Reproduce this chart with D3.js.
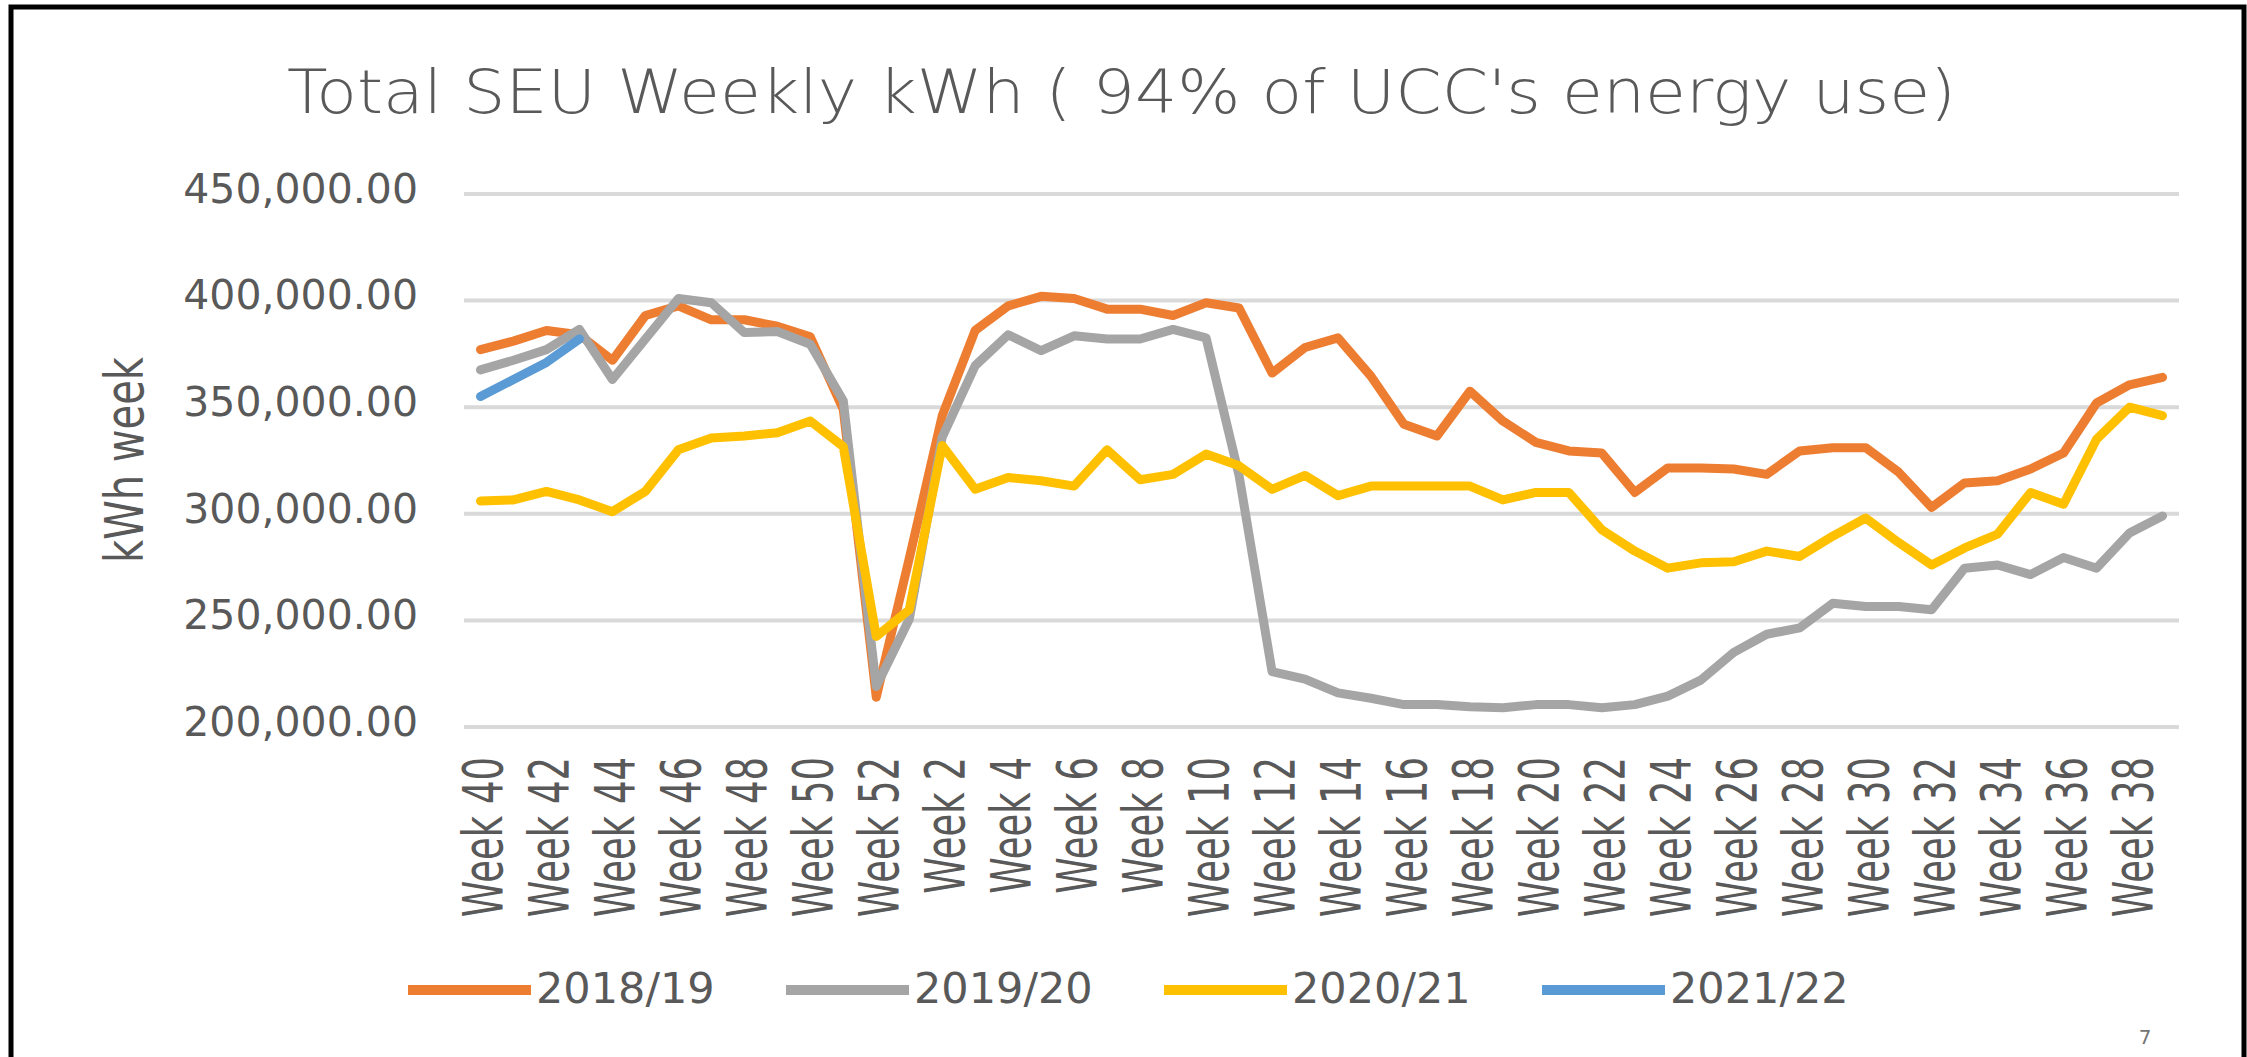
<!DOCTYPE html>
<html>
<head>
<meta charset="utf-8">
<title>Total SEU Weekly kWh</title>
<script src="https://cdn.jsdelivr.net/npm/d3@7/dist/d3.min.js"></script>
<style>
  html, body { margin: 0; padding: 0; background: #ffffff; }
  svg { display: block; }
</style>
</head>
<body>
<div id="chart"></div>
<script>
// Category labels: academic year runs Week 40 .. Week 52, then Week 1 .. Week 39
const weeks = [
  'Week 40', 'Week 41', 'Week 42', 'Week 43', 'Week 44', 'Week 45', 'Week 46',
  'Week 47', 'Week 48', 'Week 49', 'Week 50', 'Week 51', 'Week 52',
  'Week 1', 'Week 2', 'Week 3', 'Week 4', 'Week 5', 'Week 6', 'Week 7', 'Week 8',
  'Week 9', 'Week 10', 'Week 11', 'Week 12', 'Week 13', 'Week 14', 'Week 15',
  'Week 16', 'Week 17', 'Week 18', 'Week 19', 'Week 20', 'Week 21', 'Week 22',
  'Week 23', 'Week 24', 'Week 25', 'Week 26', 'Week 27', 'Week 28', 'Week 29',
  'Week 30', 'Week 31', 'Week 32', 'Week 33', 'Week 34', 'Week 35', 'Week 36',
  'Week 37', 'Week 38', 'Week 39'
];

const kwh1819 = [
  377000, 381000, 386000, 384000, 372000, 393000, 397500, 391000, 391000, 388000,
  383000, 349000, 214000, 279000, 346000, 386000, 397500, 402000, 401000, 396000,
  396000, 393000, 399000, 396500, 366000, 378000, 382500, 364500, 342000, 336500,
  357500, 343500, 333500, 329500, 328500, 310000, 321500, 321500, 321000, 318500,
  329500, 331000, 331000, 319500, 303000, 314500, 315500, 321000, 328500, 352000,
  360500, 364000
];

const kwh1920 = [
  367500, 372000, 377000, 386500, 363000, 382000, 401000, 399000, 385000, 385500,
  379500, 353000, 219000, 250500, 336000, 369500, 384000, 376500, 383500, 382000,
  382000, 386500, 382500, 318000, 226000, 222500, 216000, 213500, 210500, 210500,
  209500, 209000, 210500, 210500, 209000, 210500, 214500, 222000, 235000, 243500,
  246500, 258000, 256500, 256500, 255000, 274500, 276000, 271500, 279500, 274500,
  291000, 299000
];

const kwh2021 = [
  306000, 306500, 310500, 306500, 301000, 310500, 330000, 335500, 336500, 338000,
  343500, 331500, 242500, 255000, 332000, 311500, 317000, 315500, 313000, 330000,
  316000, 318500, 328000, 322500, 311500, 318000, 308500, 313000, 313000, 313000,
  313000, 306500, 310000, 310000, 292500, 282500, 274500, 277000, 277500, 282500,
  280000, 289500, 298000, 286500, 276000, 284000, 290500, 310000, 304500, 335000,
  350000, 346000
];

// 2021/22 had only four weeks of data at the time
const kwh2122 = [355000, 363000, 371000, 382000];

const seriesNames = ['2018/19', '2019/20', '2020/21', '2021/22'];
const yTicks = [200000, 250000, 300000, 350000, 400000, 450000];

const series = [kwh1819, kwh1920, kwh2021, kwh2122].map((values, k) => ({
  name: seriesNames[k],
  values: values.map((v, i) => ({ week: weeks[i], value: v })),
}));

const width = 2247;
const height = 1057;
const plot = { left: 464, right: 2179, top: 194, bottom: 727 };
const colors = ['#ED7D31', '#A5A5A5', '#FFC000', '#5B9BD5'];
const textColor = '#595959';
const font = "'DejaVu Sans', Verdana, sans-serif";

const svg = d3.select('#chart')
  .append('svg')
  .attr('width', width)
  .attr('height', height)
  .attr('viewBox', `0 0 ${width} ${height}`);

svg.append('rect').attr('width', width).attr('height', height).attr('fill', '#ffffff');

/* Slide frame */
svg.append('path')
  .attr('d', `M11,${height} V7 H2244 V${height}`)
  .attr('fill', 'none')
  .attr('stroke', '#000000')
  .attr('stroke-width', 5);

const x = d3.scalePoint()
  .domain(weeks)
  .range([plot.left, plot.right])
  .padding(0.5);

const y = d3.scaleLinear()
  .domain([200000, 450000])
  .range([plot.bottom, plot.top]);

/* Title */
svg.append('text')
  .attr('x', 287)
  .attr('y', 113)
  .attr('textLength', 1669)
  .attr('lengthAdjust', 'spacingAndGlyphs')
  .attr('font-family', font)
  .attr('font-weight', 300)
  .attr('font-size', 60)
  .attr('fill', textColor)
  .text("Total SEU Weekly kWh ( 94% of UCC's energy use)");

/* Grid */
svg.append('g')
  .attr('class', 'grid')
  .selectAll('line')
  .data(yTicks)
  .join('line')
  .attr('x1', plot.left)
  .attr('x2', plot.right)
  .attr('y1', (d) => y(d))
  .attr('y2', (d) => y(d))
  .attr('stroke', '#D9D9D9')
  .attr('stroke-width', 4);

/* Y axis labels */
const yAxis = svg.append('g')
  .attr('transform', `translate(418,0)`)
  .call(d3.axisLeft(y).tickValues(yTicks).tickFormat(d3.format(',.2f')).tickSize(0).tickPadding(0));

yAxis.select('.domain').remove();
yAxis.selectAll('text')
  .attr('font-family', font)
  .attr('font-size', 41)
  .attr('fill', textColor)
  .attr('dy', '0.2em');

svg.append('text')
  .attr('transform', 'translate(143,460) rotate(-90) scale(1,1.33)')
  .attr('text-anchor', 'middle')
  .attr('font-family', font)
  .attr('font-size', 40)
  .attr('fill', textColor)
  .text('kWh week');

/* X axis labels: every second week, rotated */
const xLabels = weeks.filter((_, i) => i % 2 === 0);

svg.append('g')
  .attr('class', 'x-labels')
  .selectAll('text')
  .data(xLabels)
  .join('text')
  .attr('transform', (d) => `translate(${x(d) + 22},757) rotate(-90) scale(1,1.5)`)
  .attr('text-anchor', 'end')
  .attr('font-family', font)
  .attr('font-size', 37)
  .attr('fill', textColor)
  .text((d) => d);

/* Lines */
const line = d3.line()
  .x((d) => x(d.week))
  .y((d) => y(d.value));

svg.append('g')
  .attr('class', 'series')
  .selectAll('path')
  .data(series)
  .join('path')
  .attr('fill', 'none')
  .attr('stroke', (d, k) => colors[k])
  .attr('stroke-width', 9)
  .attr('stroke-linejoin', 'round')
  .attr('stroke-linecap', 'round')
  .attr('d', (d) => line(d.values));

/* Legend */
const legendPitch = 378;
const legend = svg.append('g').attr('transform', 'translate(408,990)');

legend.selectAll('g.legend-item')
  .data(seriesNames)
  .join('g')
  .attr('class', 'legend-item')
  .attr('transform', (_, k) => `translate(${k * legendPitch},0)`)
  .each(function (d, k) {
    const g = d3.select(this);
    g.append('line')
      .attr('x1', 0)
      .attr('x2', 123)
      .attr('stroke', colors[k])
      .attr('stroke-width', 10);
    g.append('text')
      .attr('x', 128)
      .attr('y', 13)
      .attr('font-family', font)
      .attr('font-size', 43)
      .attr('fill', textColor)
      .text(d);
  });

/* Slide number */
svg.append('text')
  .attr('x', 2145)
  .attr('y', 1044)
  .attr('text-anchor', 'middle')
  .attr('font-family', font)
  .attr('font-size', 20)
  .attr('fill', '#757575')
  .text('7');
</script>
</body>
</html>
